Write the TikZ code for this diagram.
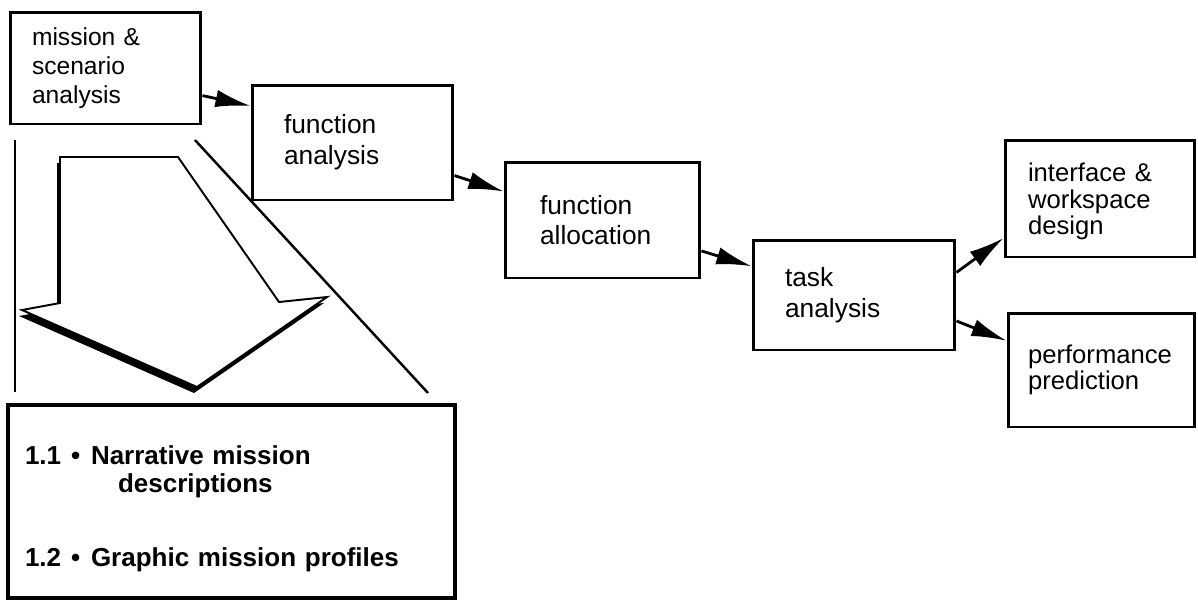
\documentclass[tikz,border=0pt]{standalone}
\usepackage{fontspec}
\setmainfont{Liberation Sans}
\usetikzlibrary{arrows.meta,calc}
\begin{document}
\begin{tikzpicture}[x=0.02cm,y=-0.02cm,
  stage/.style={draw, line width=1.7pt, align=left, inner ysep=0pt,
    font=\fontsize{15}{17.5}\selectfont},
  firststage/.style={stage, font=\fontsize{14}{16.5}\selectfont},
  tightstage/.style={stage, font=\fontsize{14.6}{15.2}\selectfont},
  listbox/.style={draw, line width=2pt, align=left, inner ysep=0pt,
    font=\bfseries\fontsize{14.8}{16}\selectfont},
  flow/.style={line width=1.6pt, -{Latex[length=20pt,width=10pt]}},
  guide/.style={line width=1.4pt},
  hollow/.style={draw, fill=white, line width=1.1pt, line join=miter},
]
\useasboundingbox (0,0) rectangle (1198,600);

% process stages
\node[firststage, minimum width=3.82cm, minimum height=2.24cm, inner xsep=0.44cm, text width=2.94cm]
  (b1) at (105.5,68) {mission \&\\scenario\\analysis};
\node[stage, minimum width=4.02cm, minimum height=2.30cm, inner xsep=0.64cm, text width=2.74cm]
  (b2) at (352.5,142.5) {function\\analysis};
\node[stage, minimum width=3.90cm, minimum height=2.32cm, inner xsep=0.70cm, text width=2.50cm]
  (b3) at (602.5,220) {function\\allocation};
\node[stage, minimum width=4.04cm, minimum height=2.20cm, inner xsep=0.64cm, text width=2.76cm]
  (b4) at (854,295) {task\\analysis};
\node[tightstage, minimum width=3.80cm, minimum height=2.34cm, inner xsep=0.46cm, text width=2.88cm]
  (b5) at (1100,198.5) {\rule{0pt}{14pt}interface \&\\workspace\\design};
\node[tightstage, minimum width=3.74cm, minimum height=2.28cm, inner xsep=0.40cm, text width=2.94cm]
  (b6) at (1101.5,370) {performance\\prediction};

% detail list for the first stage
\node[listbox, minimum width=8.94cm, minimum height=3.86cm, inner xsep=0.34cm, text width=8.26cm]
  (b7) at (231.5,501.5)
  {\rule{0pt}{18.5pt}\makebox[1.32cm][l]{1.1\hspace{0.2cm}•}Narrative mission\\
   \hspace*{1.86cm}descriptions\\[26pt]
   \makebox[1.32cm][l]{1.2\hspace{0.2cm}•}Graphic mission profiles};

% expansion lines framing the big arrow
\coordinate (gl1) at (15,140);
\coordinate (gl2) at (15,392);
\coordinate (gr1) at (195,140);
\coordinate (gr2) at (428,393);
\draw[guide] (gl1) -- (gl2);
\draw[guide] (gr1) -- (gr2);

% big hollow arrow with drop shadow
\fill[black, shift={(-3,6)}] (60,157) -- (178,157) -- (279,302) -- (327,297)
  -- (197,387) -- (22,310) -- (60,303) -- cycle;
\path[hollow] (60,157) -- (178,157) -- (279,302) -- (327,297)
  -- (197,387) -- (22,310) -- (60,303) -- cycle;

% flow between stages
\draw[flow] ($(b1.north east)!0.74!(b1.south east)$) -- ($(b2.north west)!0.19!(b2.south west)$);
\draw[flow] ($(b2.north east)!0.78!(b2.south east)$) -- ($(b3.north west)!0.26!(b3.south west)$);
\draw[flow] ($(b3.north east)!0.76!(b3.south east)$) -- ($(b4.north west)!0.245!(b4.south west)$);
\draw[flow] ($(b4.north east)!0.30!(b4.south east)$) -- ($(b5.north west)!0.83!(b5.south west)$);
\draw[flow] ($(b4.north east)!0.73!(b4.south east)$) -- ($(b6.north west)!0.25!(b6.south west)$);
\end{tikzpicture}
\end{document}
